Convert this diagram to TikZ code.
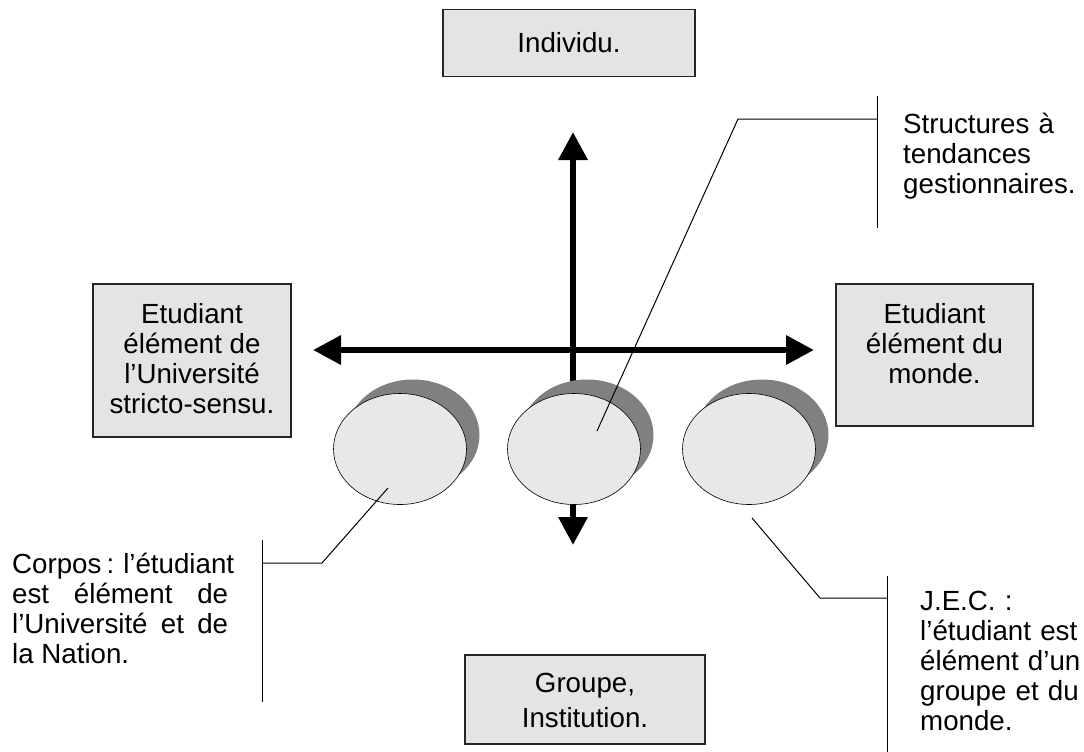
\documentclass[tikz,border=0pt]{standalone}
\usepackage{fontspec}
\setmainfont{Liberation Sans}
\usetikzlibrary{positioning}
\usetikzlibrary{arrows.meta}
\usetikzlibrary{shapes.geometric}
\definecolor{paper}{RGB}{228,228,228}
\definecolor{marble}{RGB}{232,232,232}
\definecolor{darkshade}{RGB}{128,128,128}
\newcommand{\boxtext}[3]{
  \parbox[c][#2][t]{#1}{\centering #3}
}
\tikzset {
  x=1pt, y=-1pt,
  % grey boxes of the four poles
  pole/.style = {draw=black!85, line width=1.4pt, fill=paper, inner sep=0pt,
    font=\fontsize{27.7}{30}\selectfont},
  % marble discs
  disc/.style = {ellipse, draw, line width=0.6pt, fill=marble,
    minimum width=133pt, minimum height=111pt},
  % callout texts
  note/.style = {font=\fontsize{27.7}{30}\selectfont, inner sep=0pt, anchor=base west},
  % the two axes
  axis/.style = {line width=6.5pt,
    {Triangle[width=28pt,length=28pt]}-{Triangle[width=28pt,length=28pt]}},
  leader/.style = {line width=1pt},
}

\begin{document}
\begin{tikzpicture}
  \useasboundingbox (0,0) rectangle (1084,752);

  % poles
  \node[pole, minimum width=252pt, minimum height=67pt] (individu) at (569,43) {Individu.};
  \node[pole, inner ysep=18pt, minimum width=240pt, minimum height=89pt] (groupe) at (585,699.5)
    {\boxtext{220pt}{53pt}{\fontsize{27.7}{35}\selectfont Groupe,\\ Institution.}};
  \node[pole, inner ysep=19pt, minimum width=198pt] (univ) at (192,360.5)
    {\boxtext{190pt}{115pt}{Etudiant\\ élément de\\ l'Université\\ stricto-sensu.}};
  \node[pole, inner ysep=19pt, minimum width=197pt] (monde) at (934.5,355)
    {\boxtext{190pt}{104pt}{Etudiant\\ élément du\\ monde.}};

  % axes
  \coordinate (ytop) at (573,132);
  \coordinate (ybot) at (573,545);
  \coordinate (xleft) at (313,350);
  \coordinate (xright) at (814,350);
  \draw[axis] (ybot) -- (ytop);
  \draw[axis] (xleft) -- (xright);

  % discs, each over its shadow
  \foreach \cx/\name in {400/corpos, 574/struct, 749/jec} {
    \fill[darkshade] (\cx+13,435) ellipse [x radius=66.5, y radius=55.5];
    \node[disc] (\name) at (\cx,449) {};
  }

  % callouts
  \node[note, text width=160pt, align=left] (tstruct) at (903,133)
    {Structures à\\ tendances\\ gestionnaires.};
  \node[note, text width=216pt, align=justify] (tcorpos) at (12,573)
    {\hbox to 216pt{Corpos : l'étudiant}\linebreak est élément de\linebreak l'Université et de\linebreak la Nation.};
  \node[note, text width=165pt, align=left] (tjec) at (920,610)
    {J.E.C. :\\ l'étudiant est\\ élément d'un\\ groupe et du\\ monde.};

  \coordinate (sfoot) at (597,431);
  \coordinate (sknee) at (738,119);
  \coordinate (sbar) at (877,119);
  \coordinate (stop) at (877,96);
  \coordinate (sbot) at (877,228);
  \draw[leader] (sfoot) -- (sknee) -- (sbar);
  \draw[leader] (stop) -- (sbot);

  \coordinate (cfoot) at (388,488);
  \coordinate (cknee) at (322,563);
  \coordinate (cbar) at (262,563);
  \coordinate (ctop) at (262,540);
  \coordinate (cbot) at (262,702);
  \draw[leader] (cfoot) -- (cknee) -- (cbar);
  \draw[leader] (ctop) -- (cbot);

  \coordinate (jfoot) at (752,518);
  \coordinate (jknee) at (820,598);
  \coordinate (jbar) at (887,598);
  \coordinate (jtop) at (887,576);
  \coordinate (jbot) at (887,752);
  \draw[leader] (jfoot) -- (jknee) -- (jbar);
  \draw[leader] (jtop) -- (jbot);
\end{tikzpicture}
\end{document}
